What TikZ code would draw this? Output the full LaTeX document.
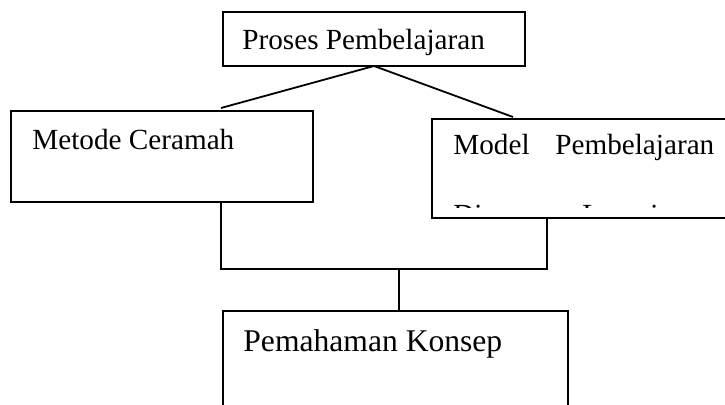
\documentclass[tikz,border=0pt]{standalone}
\usepackage{fontspec}
\setmainfont{Liberation Serif}
\usetikzlibrary{calc}
\begin{document}
\begin{tikzpicture}[x=0.5pt,y=-0.5pt,
  box/.style={draw, line width=0.9pt, rectangle, inner sep=0pt, outer sep=0pt, anchor=north west},
  txt/.style={anchor=base west, inner sep=0pt, font=\fontsize{14.6}{17}\selectfont},
  bigtxt/.style={anchor=base west, inner sep=0pt, font=\fontsize{15.8}{19}\selectfont},
  link/.style={line width=0.9pt}]
\useasboundingbox (0,0) rectangle (725,405);
\clip (0,0) rectangle (725,405);

% boxes
\node[box, minimum width=151pt, minimum height=27pt]   (top)    at (223,12)  {};
\node[box, minimum width=151pt, minimum height=45.5pt] (left)   at (11,111)  {};
\node[box, minimum width=160pt, minimum height=49.5pt] (right)  at (432,119) {};
\node[box, minimum width=172.5pt, minimum height=60pt] (bottom) at (223,311) {};

% labels
\node[txt] (tTop)   at (242,50)  {Proses Pembelajaran};
\node[txt] (tLeft)  at (32,150)  {Metode Ceramah};
\node[txt] (tModel) at (453,155) {Model};
\node[txt] (tPemb)  at (555,155) {Pembelajaran};
\begin{scope}
  % the second line is cut off by the text area of the box
  \clip (432,119) rectangle (725,207.5);
  \node[txt] (tDisc)  at (453,225) {Discovery};
  \node[txt] (tLearn) at (582,225) {Learning};
\end{scope}
\node[bigtxt] (tBottom) at (243,352) {Pemahaman Konsep};

% connectors
\draw[link] (top.south) -- ($(left.north west)+(210,-3)$);
\draw[link] (top.south) -- ($(right.north west)+(81,-2)$);
\coordinate (j) at (399,269);
\draw[link] ($(left.south west)+(210,0)$) |- (j) -| ($(right.south west)+(115,0)$);
\draw[link] (j) -- (j |- bottom.north);
\end{tikzpicture}
\end{document}
